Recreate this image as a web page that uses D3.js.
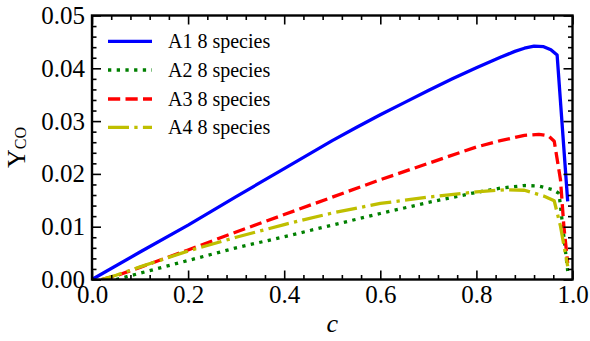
<!DOCTYPE html>
<html>
<head>
<meta charset="utf-8">
<script src="https://cdn.jsdelivr.net/npm/d3@7/dist/d3.min.js"></script>
<style>
  html, body { margin: 0; padding: 0; background: #fff; }
  svg { display: block; }
  svg text { font-family: "Liberation Serif", "Times New Roman", serif !important; fill: #000; }
</style>
</head>
<body>
<svg id="chart" width="590" height="341"></svg>
<script>
// Progress variable c and CO mass fraction for four 8-species mechanisms
const seriesNames = ["A1 8 species", "A2 8 species", "A3 8 species", "A4 8 species"];

const cA1 = [0, 0.1, 0.2, 0.3, 0.4, 0.5, 0.55, 0.6, 0.65, 0.7, 0.75, 0.8, 0.85, 0.88, 0.9, 0.92, 0.94, 0.955, 0.968, 0.99];
const yA1 = [0, 0.0052, 0.0103, 0.0157, 0.0210, 0.0263, 0.0288, 0.0312, 0.0335, 0.0358, 0.0380, 0.0401, 0.0421, 0.0432, 0.0438, 0.0442, 0.0441, 0.0435, 0.0425, 0.0148];

const cA2 = [0.05, 0.1, 0.2, 0.3, 0.4, 0.5, 0.6, 0.7, 0.8, 0.85, 0.9, 0.93, 0.96, 0.972, 0.99];
const yA2 = [0, 0.0012, 0.0036, 0.0060, 0.0081, 0.0103, 0.0125, 0.0146, 0.0165, 0.0173, 0.0178, 0.0177, 0.0170, 0.0163, 0.0016];

const cA3 = [0.02, 0.05, 0.1, 0.2, 0.3, 0.4, 0.5, 0.6, 0.7, 0.8, 0.85, 0.9, 0.93, 0.95, 0.962, 0.975, 0.982, 0.99];
const yA3 = [0, 0.0007, 0.0023, 0.0056, 0.0090, 0.0123, 0.0156, 0.0189, 0.0220, 0.0251, 0.0263, 0.0273, 0.0275, 0.0272, 0.0262, 0.0189, 0.0101, 0.0031];

const cA4 = [0.02, 0.05, 0.1, 0.2, 0.3, 0.4, 0.5, 0.6, 0.7, 0.8, 0.86, 0.9, 0.94, 0.962, 0.975, 0.985, 0.99];
const yA4 = [0, 0.0008, 0.0024, 0.0054, 0.0080, 0.0104, 0.0126, 0.0144, 0.0156, 0.0166, 0.0170, 0.0169, 0.0158, 0.0149, 0.0101, 0.0050, 0.0025];

const xTickLabels = ["0.0", "0.2", "0.4", "0.6", "0.8", "1.0"];
const yTickLabels = ["0.00", "0.01", "0.02", "0.03", "0.04", "0.05"];

const series = [
  { name: seriesNames[0], c: cA1, y: yA1, color: "#0000ff", dash: null },
  { name: seriesNames[1], c: cA2, y: yA2, color: "#008000", dash: "3.3,5.4" },
  { name: seriesNames[2], c: cA3, y: yA3, color: "#ff0000", dash: "12.2,5.3" },
  { name: seriesNames[3], c: cA4, y: yA4, color: "#bfbf00", dash: "21,5.3,3.3,5.3" }
];

const SERIF = "'Liberation Serif', 'Times New Roman', serif";
const svg = d3.select("#chart");
const L = 92, R = 572.5, T = 15.5, B = 279.5;

const x = d3.scaleLinear().domain([0, 1]).range([L, R]);
const y = d3.scaleLinear().domain([0, 0.05]).range([B, T]);

const xMajor = xTickLabels.map(Number);
const yMajor = yTickLabels.map(Number);
const xMinor = d3.range(0, 1.0001, 0.04).filter(v => !xMajor.some(m => Math.abs(m - v) < 1e-6));
const yMinor = d3.range(0, 0.05001, 0.002).filter(v => !yMajor.some(m => Math.abs(m - v) < 1e-7));

// clip region for the data lines
svg.append("defs").append("clipPath").attr("id", "plotClip")
  .append("rect").attr("x", L).attr("y", T).attr("width", R - L).attr("height", B - T);

// data lines
const line = d3.line().x(d => x(d[0])).y(d => y(d[1]));
const lines = svg.append("g").attr("clip-path", "url(#plotClip)");
series.forEach(s => {
  lines.append("path")
    .datum(s.c.map((c, i) => [c, s.y[i]]))
    .attr("d", line)
    .attr("fill", "none")
    .attr("stroke", s.color)
    .attr("stroke-width", 3.3)
    .attr("stroke-linejoin", "round")
    .attr("stroke-linecap", "butt")
    .attr("stroke-dasharray", s.dash);
});

// axes: inward ticks on all four sides
function styleAxis(g) {
  g.attr("font-family", SERIF);
  g.select(".domain").remove();
  g.selectAll(".tick line").attr("stroke", "#000").attr("stroke-width", 1.6);
  g.selectAll(".tick text").style("font-family", SERIF).style("font-size", "25px");
}

svg.append("g").attr("transform", `translate(0,${B})`)
  .call(d3.axisBottom(x).tickValues(xMajor).tickSize(-9).tickPadding(6)
    .tickFormat((d, i) => xTickLabels[i]))
  .call(styleAxis);
svg.append("g").attr("transform", `translate(0,${B})`)
  .call(d3.axisBottom(x).tickValues(xMinor).tickSize(-4.5).tickFormat(""))
  .call(styleAxis);

svg.append("g").attr("transform", `translate(0,${T})`)
  .call(d3.axisTop(x).tickValues(xMajor).tickSize(-9).tickFormat(""))
  .call(styleAxis);
svg.append("g").attr("transform", `translate(0,${T})`)
  .call(d3.axisTop(x).tickValues(xMinor).tickSize(-4.5).tickFormat(""))
  .call(styleAxis);

svg.append("g").attr("transform", `translate(${L},0)`)
  .call(d3.axisLeft(y).tickValues(yMajor).tickSize(-9).tickPadding(7)
    .tickFormat((d, i) => yTickLabels[i]))
  .call(styleAxis);
svg.append("g").attr("transform", `translate(${L},0)`)
  .call(d3.axisLeft(y).tickValues(yMinor).tickSize(-4.5).tickFormat(""))
  .call(styleAxis);

svg.append("g").attr("transform", `translate(${R},0)`)
  .call(d3.axisRight(y).tickValues(yMajor).tickSize(-9).tickFormat(""))
  .call(styleAxis);
svg.append("g").attr("transform", `translate(${R},0)`)
  .call(d3.axisRight(y).tickValues(yMinor).tickSize(-4.5).tickFormat(""))
  .call(styleAxis);

// frame
svg.append("rect").attr("x", L).attr("y", T).attr("width", R - L).attr("height", B - T)
  .attr("fill", "none").attr("stroke", "#000").attr("stroke-width", 2.4);

// axis titles
svg.append("text")
  .attr("x", (L + R) / 2).attr("y", 332)
  .attr("text-anchor", "middle")
  .style("font-family", SERIF).style("font-size", "26px").style("font-style", "italic")
  .text("c");

const yt = svg.append("text")
  .attr("transform", `translate(25,${(T + B) / 2}) rotate(-90)`)
  .attr("text-anchor", "middle")
  .style("font-family", SERIF).style("font-size", "26px");
yt.append("tspan").text("Y");
yt.append("tspan").style("font-size", "16px").attr("dy", 1).text("CO");

// legend
const legY = [41.3, 70, 99, 127.3];
const leg = svg.append("g");
series.forEach((s, i) => {
  leg.append("line")
    .attr("x1", 108).attr("x2", 152)
    .attr("y1", legY[i]).attr("y2", legY[i])
    .attr("stroke", s.color).attr("stroke-width", 3.3)
    .attr("stroke-dasharray", s.dash);
  leg.append("text")
    .attr("x", 168).attr("y", legY[i] + 7)
    .style("font-family", SERIF).style("font-size", "20px")
    .text(s.name);
});
</script>
</body>
</html>
